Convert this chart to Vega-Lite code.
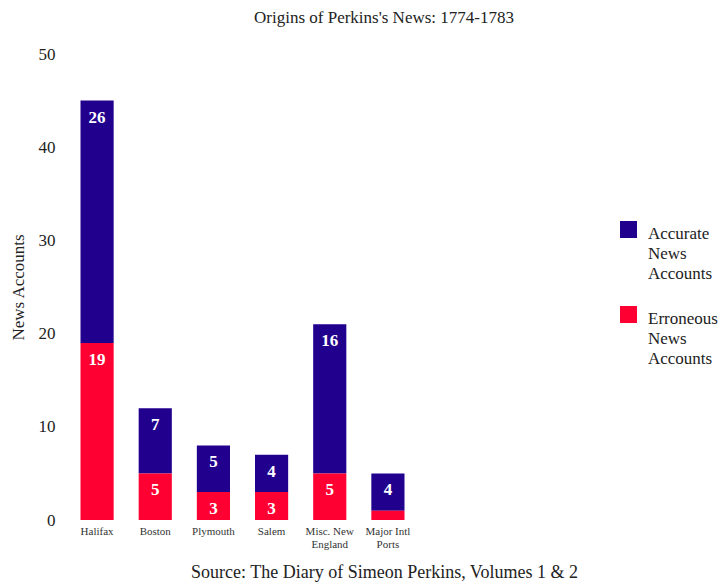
{
  "$schema": "https://vega.github.io/schema/vega-lite/v6.json",
  "autosize": "none",
  "width": 632,
  "height": 466,
  "padding": {"left": 68, "top": 54, "right": 21, "bottom": 66},
  "background": "white",
  "config": {
    "font": "Liberation Serif",
    "view": {"stroke": null},
    "axis": {"labelFont": "Liberation Serif", "titleFont": "Liberation Serif"},
    "legend": {"labelFont": "Liberation Serif"},
    "title": {"font": "Liberation Serif"},
    "text": {"font": "Liberation Serif"}
  },
  "title": {
    "text": "Origins of Perkins's News: 1774-1783",
    "font": "Liberation Serif",
    "fontSize": 17,
    "fontWeight": "normal",
    "color": "#222222",
    "anchor": "middle",
    "offset": 18
  },
  "data": {
    "values": [
      {"origin": "Halifax", "type": "Accurate News Accounts", "count": 26},
      {"origin": "Halifax", "type": "Erroneous News Accounts", "count": 19},
      {"origin": "Boston", "type": "Accurate News Accounts", "count": 7},
      {"origin": "Boston", "type": "Erroneous News Accounts", "count": 5},
      {"origin": "Plymouth", "type": "Accurate News Accounts", "count": 5},
      {"origin": "Plymouth", "type": "Erroneous News Accounts", "count": 3},
      {"origin": "Salem", "type": "Accurate News Accounts", "count": 4},
      {"origin": "Salem", "type": "Erroneous News Accounts", "count": 3},
      {"origin": "Misc. New England", "type": "Accurate News Accounts", "count": 16},
      {"origin": "Misc. New England", "type": "Erroneous News Accounts", "count": 5},
      {"origin": "Major Intl Ports", "type": "Accurate News Accounts", "count": 4},
      {"origin": "Major Intl Ports", "type": "Erroneous News Accounts", "count": 1}
    ]
  },
  "encoding": {
    "x": {
      "field": "origin",
      "type": "nominal",
      "sort": ["Halifax", "Boston", "Plymouth", "Salem", "Misc. New England", "Major Intl Ports"],
      "scale": {"range": [0, 349], "paddingInner": 0.43, "paddingOuter": 0.215},
      "axis": {
        "title": "Source: The Diary of Simeon Perkins, Volumes 1 & 2",
        "titleFont": "Liberation Serif",
        "titleFontSize": 18,
        "titleFontWeight": "normal",
        "titleColor": "#222222",
        "titleX": 316,
        "titleY": 52,
        "titleBaseline": "middle",
        "labelAngle": 0,
        "labelFont": "Liberation Serif",
        "labelFontSize": 11,
        "labelColor": "#333333",
        "labelPadding": 5,
        "labelLineHeight": 13,
        "labelExpr": "datum.label == 'Misc. New England' ? ['Misc. New', 'England'] : datum.label == 'Major Intl Ports' ? ['Major Intl', 'Ports'] : datum.label",
        "ticks": false,
        "domain": false,
        "grid": false
      }
    },
    "y": {
      "field": "count",
      "type": "quantitative",
      "stack": "zero",
      "scale": {"domain": [0, 50]},
      "axis": {
        "title": "News Accounts",
        "titleFont": "Liberation Serif",
        "titleFontSize": 17,
        "titleFontWeight": "normal",
        "titleColor": "#222222",
        "titleX": -41,
        "labelFont": "Liberation Serif",
        "labelFontSize": 17,
        "labelColor": "#222222",
        "labelPadding": 13,
        "labelOverlap": false,
        "labelFlush": false,
        "values": [0, 10, 20, 30, 40, 50],
        "ticks": false,
        "domain": false,
        "grid": false
      }
    },
    "order": {"field": "type", "sort": "descending"}
  },
  "layer": [
    {
      "mark": {"type": "bar"},
      "encoding": {
        "color": {
          "field": "type",
          "type": "nominal",
          "scale": {
            "domain": ["Accurate News Accounts", "Erroneous News Accounts"],
            "range": ["#22008E", "#FF0032"]
          },
          "legend": {
            "title": null,
            "orient": "none",
            "legendX": 552,
            "legendY": 167,
            "symbolType": "square",
            "symbolSize": 289,
            "symbolStrokeWidth": 0,
            "symbolOpacity": 1,
            "labelFont": "Liberation Serif",
            "labelFontSize": 17,
            "labelColor": "#222222",
            "labelOffset": 11,
            "rowPadding": 24,
            "labelExpr": "split(datum.label, ' ')",
            "labelLimit": 200,
            "encode": {"labels": {"update": {"lineHeight": {"value": 20}, "dy": {"value": 4}}}}
          }
        }
      }
    },
    {
      "mark": {"type": "text", "color": "white", "font": "Liberation Serif", "fontWeight": "bold", "fontSize": 17, "baseline": "top", "dy": 9},
      "encoding": {
        "text": {"condition": {"test": "datum.count > 1", "field": "count", "type": "quantitative"}, "value": ""}
      }
    }
  ]
}
